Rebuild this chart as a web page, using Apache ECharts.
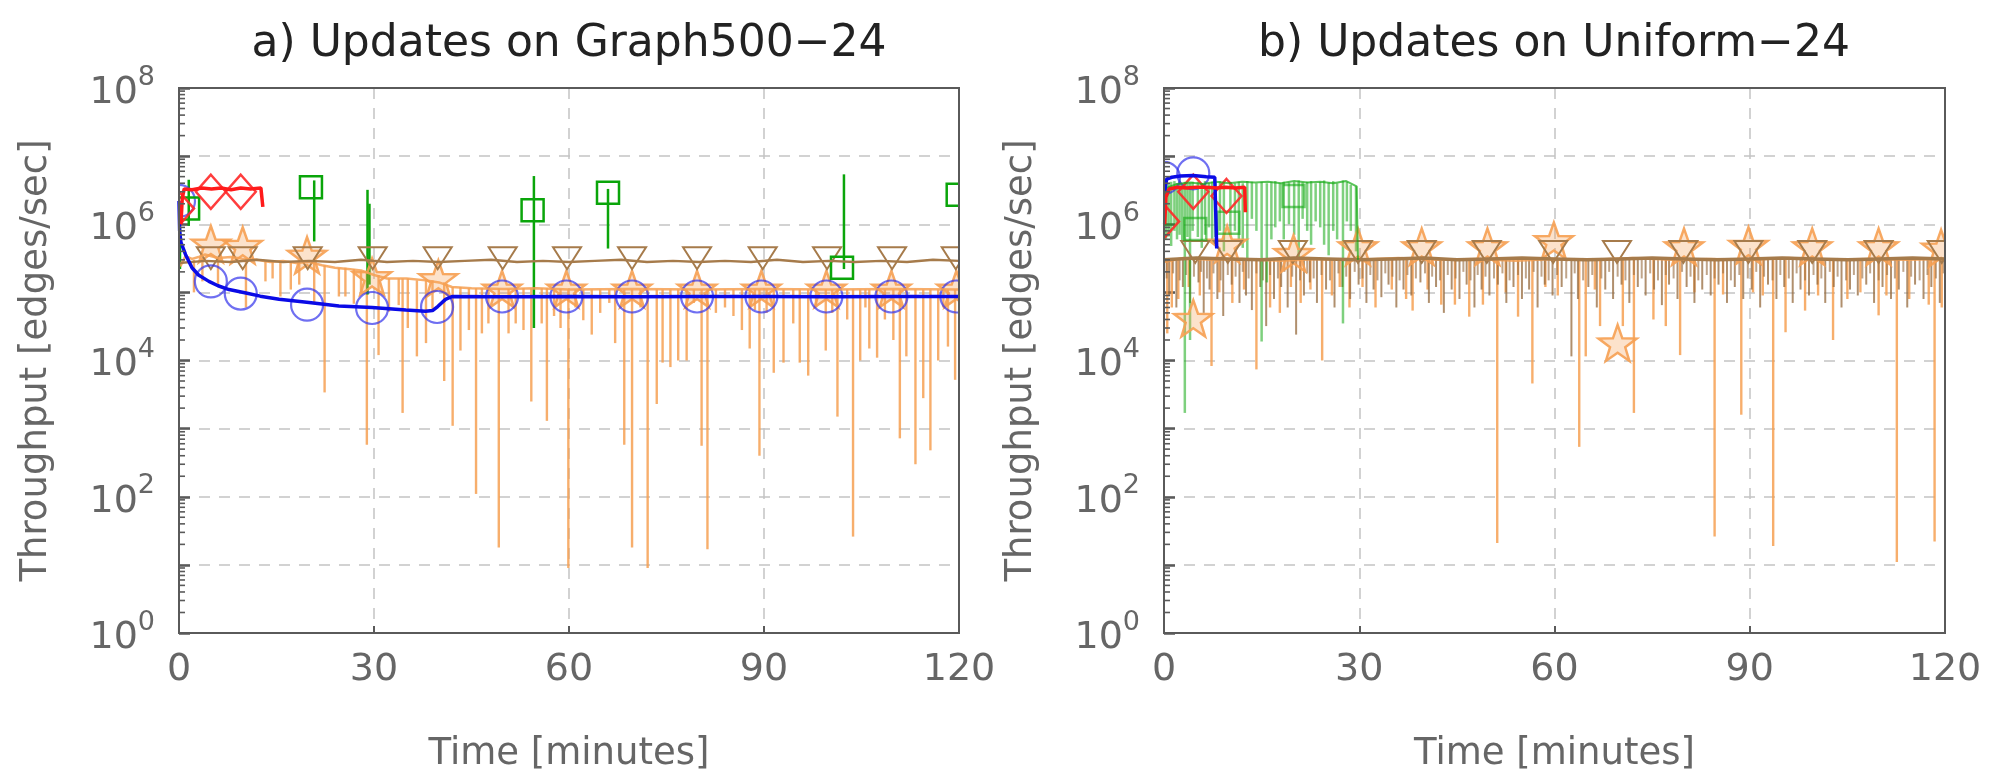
<!DOCTYPE html>
<html>
<head>
<meta charset="utf-8">
<script src="https://cdn.jsdelivr.net/npm/echarts@6/dist/echarts.min.js"></script>
<style>
  html, body { margin: 0; padding: 0; background: #fff; }
  #chart { width: 1995px; height: 778px; }
</style>
</head>
<body>
<div id="chart"></div>
<script>
// ---- data ----
const xTicks = [0, 30, 60, 90, 120]
const yTickExps = [0, 2, 4, 6, 8]
const titles = ['a) Updates on Graph500\u221224', 'b) Updates on Uniform\u221224']

// a) Graph500-24
const blueLineA = [[0, 2.2e6], [0.1, 8.0e5], [0.3, 5.4e5], [1, 3.6e5], [2, 2.3e5], [3, 1.8e5], [4.6, 1.45e5], [6, 1.25e5],
  [7.7, 1.1e5], [10.3, 9.8e4], [12.5, 8.8e4], [15.4, 7.9e4], [20, 7.1e4], [24.6, 6.3e4], [29.7, 6.0e4], [34.9, 5.5e4],
  [37.9, 5.3e4], [39, 5.4e4], [39.8, 6.2e4], [41, 7.9e4], [42, 8.7e4], [50, 8.6e4], [60, 8.7e4], [70, 8.6e4],
  [80, 8.7e4], [90, 8.7e4], [100, 8.6e4], [110, 8.7e4], [120, 8.7e4]]
const blueMarksA = [[0, 2.2e6], [4.9, 1.45e5], [9.5, 9.6e4], [19.7, 6.6e4], [29.7, 5.9e4], [39.7, 6.1e4], [49.7, 8.7e4],
  [59.6, 8.7e4], [69.7, 8.7e4], [79.7, 8.7e4], [89.6, 8.7e4], [99.6, 8.7e4], [109.6, 8.7e4], [119.6, 8.7e4]]
const redLineA = [[0.3, 1.0e6], [0.5, 2.4e6], [0.8, 3.3e6], [2, 3.2e6], [3.5, 3.4e6], [5, 3.3e6], [6.5, 3.4e6], [8, 3.2e6],
  [9.5, 3.4e6], [11, 3.3e6], [12.6, 3.4e6], [12.9, 1.8e6]]
const redMarksA = [[0, 1.7e6], [4.9, 3.0e6], [9.5, 3.0e6]]
const greenSpikesA = [[0.15, 9.0e5, 2.2e5], [1.5, 4.5e6, 9.5e5], [20.8, 4.4e6, 5.6e5], [29.0, 3.2e6, 9.3e4], [29.3, 2.0e6, 1.3e5],
  [54.6, 5.1e6, 3.0e4], [66.0, 3.3e6, 4.4e5], [102.3, 5.4e6, 2.2e5]]
const greenMarksA = [[1.4, 1.7e6], [20.3, 3.5e6], [54.4, 1.6e6], [66.0, 2.9e6], [102.0, 2.3e5], [119.8, 2.7e6]]
const brownLineA = [[0, 2.7e5], [4, 2.9e5], [8, 2.8e5], [12, 3.0e5], [16, 2.8e5], [20, 2.9e5], [24, 2.8e5], [28, 3.0e5],
  [32, 2.8e5], [36, 2.9e5], [40, 2.8e5], [44, 2.9e5], [48, 3.0e5], [52, 2.8e5], [56, 2.9e5], [60, 2.8e5], [64, 2.9e5],
  [68, 3.0e5], [72, 2.8e5], [76, 2.9e5], [80, 2.8e5], [84, 2.9e5], [88, 2.8e5], [92, 3.0e5], [96, 2.8e5], [100, 2.9e5],
  [104, 2.8e5], [108, 2.9e5], [112, 2.8e5], [116, 3.0e5], [120, 2.9e5]]
const brownMarksA = [[4.9, 3.4e5], [9.8, 3.4e5], [19.8, 3.4e5], [29.8, 3.4e5], [39.8, 3.4e5], [49.8, 3.4e5], [59.7, 3.4e5],
  [69.7, 3.4e5], [79.7, 3.4e5], [89.8, 3.4e5], [99.7, 3.4e5], [109.7, 3.4e5], [119.5, 3.4e5]]
const orangeLineA = [[0.2, 2.4e5], [1, 3.4e5], [2, 3.1e5], [3, 3.3e5], [4, 3.6e5], [6, 3.2e5], [8, 3.3e5], [10, 3.1e5],
  [12, 3.0e5], [14, 2.8e5], [16, 2.9e5], [18, 2.7e5], [20, 2.8e5], [22, 2.5e5], [24, 2.3e5], [26, 2.2e5], [28, 2.1e5],
  [30, 1.8e5], [32, 1.6e5], [35, 1.6e5], [38, 1.5e5], [40, 1.4e5], [42, 1.2e5], [45, 1.15e5], [50, 1.12e5], [55, 1.15e5],
  [60, 1.1e5], [70, 1.12e5], [80, 1.1e5], [90, 1.12e5], [100, 1.1e5], [110, 1.12e5], [120, 1.1e5]]
const orangeMarksA = [[4.9, 4.8e5], [9.8, 4.6e5], [19.7, 3.3e5], [29.7, 1.6e5], [39.9, 1.5e5], [49.7, 1.05e5], [59.6, 1.05e5],
  [69.7, 1.05e5], [79.7, 1.05e5], [89.6, 1.05e5], [99.6, 1.05e5], [109.6, 1.05e5], [119.6, 1.05e5]]
// [minute, top, bottom]
const orangeSpikesA = [[2.3, 3.0e5, 1.0e5], [3.6, 3.2e5, 1.45e5], [6.0, 3.2e5, 1.2e5], [10.3, 3.1e5, 6.0e4],
  [13.3, 2.9e5, 1.45e5], [14.4, 2.8e5, 1.6e5], [15.6, 2.9e5, 8.7e4], [17.2, 2.8e5, 1.1e5], [18.5, 2.7e5, 1.3e5],
  [20.8, 2.8e5, 6.8e4], [22.4, 2.5e5, 3.4e3], [24.6, 2.3e5, 8.7e4], [25.6, 2.3e5, 8.7e4], [26.9, 2.2e5, 6.8e4],
  [28.0, 2.1e5, 1.0e5], [28.9, 2.1e5, 5.8e2], [30.7, 1.8e5, 1.2e4], [32.3, 1.6e5, 5.2e4], [33.8, 1.6e5, 6.5e4],
  [34.4, 1.6e5, 1.7e3], [35.2, 1.6e5, 3.0e4], [36.6, 1.5e5, 1.15e4], [38.0, 1.5e5, 1.8e4], [39.0, 1.5e5, 5.5e4],
  [40.8, 1.4e5, 5.0e3], [42.1, 1.2e5, 1.1e3], [43.3, 1.2e5, 1.4e4], [44.6, 1.15e5, 2.8e4], [45.7, 1.15e5, 1.1e2],
  [46.6, 1.15e5, 2.5e4], [47.6, 1.15e5, 3.5e4], [49.2, 1.15e5, 18], [50.7, 1.12e5, 2.5e4], [51.8, 1.12e5, 3.5e4],
  [53.0, 1.15e5, 2.8e4], [54.2, 1.15e5, 2.5e3], [55.8, 1.15e5, 3.5e4], [56.6, 1.15e5, 1.3e3], [57.7, 1.12e5, 4.5e4],
  [58.7, 1.12e5, 3.0e4], [59.9, 1.1e5, 9], [61.0, 1.1e5, 6.0e4], [62.2, 1.1e5, 3.9e4], [63.5, 1.1e5, 2.4e4],
  [64.8, 1.1e5, 5.0e4], [66.2, 1.1e5, 7.0e4], [67.1, 1.1e5, 1.8e4], [68.5, 1.1e5, 5.8e2], [69.7, 1.1e5, 18],
  [71.0, 1.1e5, 6.0e4], [72.1, 1.1e5, 9], [73.5, 1.1e5, 2.3e3], [74.4, 1.1e5, 9.3e3], [75.6, 1.1e5, 8.0e3],
  [76.8, 1.1e5, 1.0e4], [78.1, 1.1e5, 1.0e4], [79.2, 1.1e5, 7.0e4], [80.4, 1.1e5, 5.6e2], [81.3, 1.1e5, 17],
  [82.6, 1.1e5, 5.0e4], [84.0, 1.1e5, 6.0e4], [85.3, 1.1e5, 4.5e4], [86.6, 1.1e5, 2.8e4], [87.8, 1.1e5, 1.5e4],
  [88.6, 1.1e5, 5.5e4], [89.3, 1.1e5, 4.0e2], [90.4, 1.1e5, 5.0e4], [91.5, 1.1e5, 6.6e3], [93.0, 1.1e5, 9.3e3],
  [94.5, 1.1e5, 3.5e4], [95.5, 1.1e5, 9.3e3], [96.8, 1.1e5, 6.0e3], [98.0, 1.1e5, 6.0e4], [99.5, 1.1e5, 1.4e4],
  [100.5, 1.1e5, 5.0e4], [101.3, 1.1e5, 1.5e3], [102.8, 1.1e5, 4.0e4], [103.7, 1.1e5, 26], [104.8, 1.1e5, 1.0e4],
  [105.6, 1.1e5, 6.0e4], [106.2, 1.1e5, 1.5e4], [107.4, 1.1e5, 1.1e4], [108.6, 1.1e5, 4.0e4], [109.9, 1.1e5, 2.0e4],
  [110.9, 1.1e5, 7.2e2], [111.9, 1.1e5, 1.15e4], [113.3, 1.1e5, 3.0e2], [114.5, 1.1e5, 2.8e3], [115.6, 1.1e5, 4.8e2],
  [116.8, 1.1e5, 1.0e4], [117.6, 1.1e5, 6.0e4], [118.3, 1.1e5, 1.6e4], [119.4, 1.1e5, 5.2e3]]

// b) Uniform-24
const blueLineB = [[0.1, 3.0e6], [0.4, 4.6e6], [1.2, 4.9e6], [2.5, 5.1e6], [4.5, 5.2e6], [6.5, 5.0e6], [7.8, 4.9e6], [8.1, 4.4e5]]
const blueMarksB = [[0, 4.8e6], [4.5, 5.6e6]]
const redLineB = [[0.1, 1.0e6], [0.3, 2.5e6], [0.8, 3.3e6], [2, 3.5e6], [3.5, 3.4e6], [5, 3.5e6], [6.5, 3.5e6], [8, 3.4e6],
  [9.5, 3.5e6], [11, 3.4e6], [12.4, 3.5e6], [12.5, 1.5e6]]
const redMarksB = [[0, 1.1e6], [4.5, 3.0e6], [9.6, 2.6e6]]
const greenLineB = [[0.1, 1.8e6], [0.4, 3.4e6], [2, 3.9e6], [4, 4.1e6], [6, 3.9e6], [8, 4.2e6], [10, 4.0e6], [12, 4.2e6],
  [14, 4.1e6], [16, 4.2e6], [18, 4.0e6], [20, 4.3e6], [22, 4.1e6], [24, 4.2e6], [26, 4.0e6], [28, 4.3e6], [29.6, 3.6e6], [29.8, 3.0e5]]
const greenSpikesB = [[0.3, 3.5e6, 6.0e5], [0.7, 4.0e6, 6.6e5], [1.1, 4.2e6, 4.8e5], [1.6, 4.3e6, 8.0e5], [2.0, 4.0e6, 6.0e5],
  [2.4, 4.3e6, 7.0e5], [2.8, 4.0e6, 5.5e5], [3.2, 4.2e6, 1.7e3], [3.6, 4.0e6, 6.5e5], [4.0, 4.1e6, 2.0e4], [4.4, 4.2e6, 8.0e5],
  [5.2, 4.2e6, 6.5e5], [5.8, 4.0e6, 4.5e5], [6.3, 4.3e6, 7.0e5], [6.9, 4.0e6, 9.0e5], [7.4, 4.2e6, 5.5e5], [7.9, 4.0e6, 6.5e5],
  [8.6, 4.3e6, 8.0e5], [9.2, 4.1e6, 4.0e5], [10.2, 4.2e6, 7.0e5], [10.9, 4.0e6, 8.0e5], [11.5, 4.2e6, 6.0e5], [12.1, 4.0e6, 4.5e5],
  [12.8, 4.3e6, 3.0e5], [13.5, 4.2e6, 1.2e6], [14.2, 4.0e6, 8.0e5], [15.0, 4.2e6, 1.9e4], [15.8, 4.0e6, 1.4e5], [16.5, 4.2e6, 6.0e5],
  [17.1, 4.3e6, 9.0e5], [17.8, 4.0e6, 1.1e6], [18.4, 4.2e6, 6.0e5], [19.2, 4.1e6, 1.0e6], [20.0, 4.2e6, 7.0e5], [20.7, 4.4e6, 3.0e5],
  [21.3, 4.1e6, 1.2e6], [22.0, 4.2e6, 8.0e5], [22.6, 4.3e6, 5.0e5], [23.3, 4.0e6, 1.1e6], [24.0, 4.2e6, 9.0e5], [24.6, 4.4e6, 5.0e5],
  [25.3, 4.1e6, 3.5e5], [26.0, 4.3e6, 8.0e5], [26.6, 4.0e6, 6.0e5], [27.5, 4.4e6, 3.5e4], [28.1, 4.2e6, 1.1e6], [28.7, 3.8e6, 8.0e5],
  [29.5, 3.6e6, 4.0e5]]
const greenMarksB = [[4.8, 8.5e5], [9.9, 1.05e6], [19.9, 2.6e6]]
const brownLineB = [[0, 3.0e5], [5, 3.2e5], [10, 3.1e5], [15, 3.0e5], [20, 3.2e5], [25, 3.1e5], [30, 3.0e5], [35, 3.1e5],
  [40, 3.2e5], [45, 3.0e5], [50, 3.1e5], [55, 3.2e5], [60, 3.1e5], [65, 3.0e5], [70, 3.1e5], [75, 3.2e5], [80, 3.1e5],
  [85, 3.0e5], [90, 3.1e5], [95, 3.2e5], [100, 3.1e5], [105, 3.0e5], [110, 3.1e5], [115, 3.2e5], [120, 3.1e5]]
const brownSpikesB = [[0.8, 3.1e5, 9e4], [1.9, 3.1e5, 6e4], [2.9, 3.1e5, 1.2e5], [4.0, 3.1e5, 7e4], [5.3, 3.1e5, 1.4e5],
  [6.1, 3.1e5, 5e4], [7.0, 3.1e5, 1.1e5], [8.2, 3.1e5, 8e4], [9.1, 3.1e5, 4.5e4], [10.4, 3.1e5, 1.3e5], [11.6, 3.1e5, 7e4],
  [12.6, 3.1e5, 9e4], [13.5, 3.1e5, 5.5e4], [14.8, 3.1e5, 1.2e5], [15.7, 3.1e5, 3.2e4], [16.9, 3.1e5, 8e4], [18.0, 3.1e5, 1.2e5],
  [19.0, 3.1e5, 6e4], [20.3, 3.1e5, 2.4e4], [21.5, 3.1e5, 9e4], [22.4, 3.1e5, 1.4e5], [23.5, 3.1e5, 7e4], [24.9, 3.1e5, 1.1e5],
  [26.2, 3.1e5, 6e4], [27.4, 3.1e5, 1.2e5], [28.6, 3.1e5, 8e4], [29.9, 3.1e5, 1.3e5], [31.1, 3.1e5, 7e4], [32.2, 3.1e5, 1.1e5],
  [33.4, 3.1e5, 8.5e4], [34.5, 3.1e5, 1.3e5], [35.7, 3.1e5, 6e4], [36.8, 3.1e5, 1.1e5], [38.0, 3.1e5, 9e4], [39.4, 3.1e5, 1.4e5],
  [40.7, 3.1e5, 7e4], [41.8, 3.1e5, 1.2e5], [43.0, 3.1e5, 5e4], [44.2, 3.1e5, 1.1e5], [45.4, 3.1e5, 8e4], [46.5, 3.1e5, 1.3e5],
  [47.7, 3.1e5, 6e4], [48.8, 3.1e5, 1.1e5], [50.0, 3.1e5, 9e4], [51.3, 3.1e5, 1.3e5], [52.6, 3.1e5, 7e4], [53.7, 3.1e5, 1.2e5],
  [55.0, 3.1e5, 8e4], [56.1, 3.1e5, 1.1e5], [57.4, 3.1e5, 6e4], [58.5, 3.1e5, 1.3e5], [59.7, 3.1e5, 9e4], [61.1, 3.1e5, 1.2e5],
  [62.6, 3.1e5, 1.15e4], [63.6, 3.1e5, 8e4], [65.2, 3.1e5, 1.2e5], [66.5, 3.1e5, 6e4], [67.8, 3.1e5, 1.1e5], [69.0, 3.1e5, 8e4],
  [70.3, 3.1e5, 1.3e5], [71.5, 3.1e5, 7e4], [72.8, 3.1e5, 1.2e5], [74.0, 3.1e5, 9e4], [75.3, 3.1e5, 1.1e5], [76.5, 3.1e5, 6.5e4],
  [77.6, 3.1e5, 1.3e5], [78.9, 3.1e5, 8e4], [80.3, 3.1e5, 1.2e5], [81.5, 3.1e5, 7e4], [82.7, 3.1e5, 1.1e5], [84.0, 3.1e5, 9e4],
  [85.2, 3.1e5, 1.3e5], [86.5, 3.1e5, 7e4], [87.7, 3.1e5, 1.2e5], [89.0, 3.1e5, 8e4], [90.3, 3.1e5, 1.1e5], [91.6, 3.1e5, 6e4],
  [92.8, 3.1e5, 1.3e5], [94.1, 3.1e5, 8e4], [95.3, 3.1e5, 1.2e5], [96.6, 3.1e5, 7e4], [97.8, 3.1e5, 1.1e5], [99.1, 3.1e5, 9e4],
  [100.4, 3.1e5, 1.3e5], [101.6, 3.1e5, 7e4], [102.9, 3.1e5, 1.2e5], [104.1, 3.1e5, 6e4], [105.4, 3.1e5, 1.1e5], [106.6, 3.1e5, 9e4],
  [107.9, 3.1e5, 1.3e5], [109.1, 3.1e5, 7e4], [110.4, 3.1e5, 1.2e5], [111.7, 3.1e5, 8e4], [112.9, 3.1e5, 1.1e5], [114.2, 3.1e5, 6e4],
  [115.4, 3.1e5, 1.3e5], [116.7, 3.1e5, 8e4], [117.9, 3.1e5, 1.2e5], [119.2, 3.1e5, 7e4]]
// shorter brown strokes that thicken the band just under 3e5
const brownFuzzB = [[0.4, 3.2e5, 1.6e5], [1.4, 3.2e5, 1.9e5], [2.4, 3.2e5, 1.5e5], [3.4, 3.2e5, 1.8e5], [4.6, 3.2e5, 1.7e5],
  [5.7, 3.2e5, 2.0e5], [6.6, 3.2e5, 1.6e5], [7.6, 3.2e5, 1.9e5], [8.7, 3.2e5, 1.5e5], [9.8, 3.2e5, 1.8e5], [11.0, 3.2e5, 1.7e5],
  [12.1, 3.2e5, 2.0e5], [13.0, 3.2e5, 1.6e5], [14.2, 3.2e5, 1.9e5], [15.2, 3.2e5, 1.5e5], [16.3, 3.2e5, 1.8e5], [17.5, 3.2e5, 1.6e5],
  [18.5, 3.2e5, 2.0e5], [19.7, 3.2e5, 1.7e5], [20.9, 3.2e5, 1.5e5], [22.0, 3.2e5, 1.9e5], [23.0, 3.2e5, 1.6e5], [24.2, 3.2e5, 1.8e5],
  [25.5, 3.2e5, 1.5e5], [26.8, 3.2e5, 1.9e5], [28.0, 3.2e5, 1.7e5], [29.3, 3.2e5, 2.0e5], [30.5, 3.2e5, 1.6e5], [31.7, 3.2e5, 1.8e5],
  [32.8, 3.2e5, 1.5e5], [34.0, 3.2e5, 1.9e5], [35.1, 3.2e5, 1.7e5], [36.2, 3.2e5, 1.5e5], [37.4, 3.2e5, 1.8e5], [38.7, 3.2e5, 1.6e5],
  [40.1, 3.2e5, 1.9e5], [41.2, 3.2e5, 1.7e5], [42.4, 3.2e5, 1.5e5], [43.6, 3.2e5, 1.8e5], [44.8, 3.2e5, 1.6e5], [46.0, 3.2e5, 2.0e5],
  [47.1, 3.2e5, 1.5e5], [48.2, 3.2e5, 1.8e5], [49.4, 3.2e5, 1.7e5], [50.7, 3.2e5, 1.6e5], [52.0, 3.2e5, 1.9e5], [53.1, 3.2e5, 1.5e5],
  [54.4, 3.2e5, 1.8e5], [55.6, 3.2e5, 1.6e5], [56.8, 3.2e5, 2.0e5], [58.0, 3.2e5, 1.7e5], [59.1, 3.2e5, 1.5e5], [60.4, 3.2e5, 1.8e5],
  [61.8, 3.2e5, 1.6e5], [63.1, 3.2e5, 1.9e5], [64.4, 3.2e5, 1.5e5], [65.8, 3.2e5, 1.8e5], [67.2, 3.2e5, 1.6e5], [68.4, 3.2e5, 2.0e5],
  [69.7, 3.2e5, 1.7e5], [70.9, 3.2e5, 1.5e5], [72.2, 3.2e5, 1.8e5], [73.4, 3.2e5, 1.6e5], [74.7, 3.2e5, 1.9e5], [75.9, 3.2e5, 1.5e5],
  [77.1, 3.2e5, 1.8e5], [78.3, 3.2e5, 1.6e5], [79.6, 3.2e5, 2.0e5], [80.9, 3.2e5, 1.7e5], [82.1, 3.2e5, 1.5e5], [83.4, 3.2e5, 1.8e5],
  [84.6, 3.2e5, 1.6e5], [85.9, 3.2e5, 1.9e5], [87.1, 3.2e5, 1.5e5], [88.4, 3.2e5, 1.8e5], [89.7, 3.2e5, 1.6e5], [91.0, 3.2e5, 2.0e5],
  [92.2, 3.2e5, 1.7e5], [93.5, 3.2e5, 1.5e5], [94.7, 3.2e5, 1.8e5], [96.0, 3.2e5, 1.6e5], [97.2, 3.2e5, 1.9e5], [98.5, 3.2e5, 1.5e5],
  [99.8, 3.2e5, 1.8e5], [101.0, 3.2e5, 1.6e5], [102.3, 3.2e5, 2.0e5], [103.5, 3.2e5, 1.7e5], [104.8, 3.2e5, 1.5e5], [106.0, 3.2e5, 1.8e5],
  [107.3, 3.2e5, 1.6e5], [108.5, 3.2e5, 1.9e5], [109.8, 3.2e5, 1.5e5], [111.1, 3.2e5, 1.8e5], [112.3, 3.2e5, 1.6e5], [113.6, 3.2e5, 2.0e5],
  [114.8, 3.2e5, 1.7e5], [116.1, 3.2e5, 1.5e5], [117.3, 3.2e5, 1.8e5], [118.6, 3.2e5, 1.6e5], [119.8, 3.2e5, 1.9e5]]
const brownMarksB = [[4.8, 4.2e5], [9.8, 4.2e5], [19.8, 4.2e5], [29.8, 4.2e5], [39.6, 4.2e5], [49.6, 4.2e5], [59.8, 4.2e5],
  [69.6, 4.2e5], [79.8, 4.2e5], [89.8, 4.2e5], [99.6, 4.2e5], [109.8, 4.2e5], [119.5, 4.2e5]]
const orangeLineB = [[0, 2.8e5], [3, 3.2e5], [7, 3.0e5], [12, 3.1e5], [18, 2.9e5], [24, 3.1e5], [30, 3.0e5], [36, 3.2e5],
  [42, 3.0e5], [48, 3.1e5], [54, 2.9e5], [60, 3.1e5], [66, 3.0e5], [72, 3.2e5], [78, 3.0e5], [84, 3.1e5], [90, 3.0e5],
  [96, 3.2e5], [102, 3.0e5], [108, 3.1e5], [114, 3.0e5], [120, 3.1e5]]
const orangeSpikesB = [[0.5, 3.0e5, 2.5e4], [1.2, 3.0e5, 6.0e4], [2.2, 3.0e5, 8.0e4], [3.8, 3.0e5, 1.2e5], [5.5, 3.0e5, 9.0e4],
  [7.3, 3.0e5, 8.3e3], [8.5, 3.0e5, 1.0e5], [10.5, 3.0e5, 7.0e4], [12.3, 3.0e5, 1.1e5], [14.2, 3.0e5, 7.4e3], [16.3, 3.0e5, 6.0e4],
  [17.8, 3.0e5, 5.0e4], [19.5, 3.0e5, 1.2e5], [21.0, 3.0e5, 7.0e4], [22.5, 3.0e5, 1.1e5], [24.3, 3.0e5, 1.0e4], [25.8, 3.0e5, 9.0e4],
  [27.0, 3.0e5, 1.2e5], [28.5, 3.0e5, 6.0e4], [30.5, 3.0e5, 1.2e5], [32.5, 3.0e5, 6.0e4], [35.0, 3.0e5, 1.1e5], [37.2, 3.0e5, 8.0e4],
  [38.2, 3.0e5, 5.4e4], [40.5, 3.0e5, 1.1e5], [42.6, 3.0e5, 6.6e4], [44.7, 3.0e5, 6.6e4], [46.9, 3.0e5, 4.4e4], [49.0, 3.0e5, 6.6e4],
  [51.2, 3.0e5, 21], [52.5, 3.0e5, 1.0e5], [54.4, 3.0e5, 4.4e4], [56.6, 3.0e5, 4.6e3], [58.6, 3.0e5, 1.2e5], [60.5, 3.0e5, 9.0e4],
  [63.8, 3.0e5, 5.4e2], [64.8, 3.0e5, 1.15e4], [66.2, 3.0e5, 1.1e5], [67.0, 3.0e5, 3.2e4], [70.5, 3.0e5, 3.2e4], [72.2, 3.0e5, 1.7e3],
  [75.2, 3.0e5, 4.0e4], [77.1, 3.0e5, 3.2e4], [79.3, 3.0e5, 1.2e4], [81.5, 3.0e5, 1.0e5], [84.6, 3.0e5, 26], [85.9, 3.0e5, 9.3e4],
  [88.7, 3.0e5, 1.6e3], [90.5, 3.0e5, 1.0e5], [92.0, 3.0e5, 9.0e4], [93.6, 3.0e5, 19], [95.5, 3.0e5, 2.6e4], [98.5, 3.0e5, 5.4e4],
  [100.5, 3.0e5, 9.0e4], [102.8, 3.0e5, 2.0e4], [105.0, 3.0e5, 8.0e4], [107.0, 3.0e5, 1.0e5], [109.8, 3.0e5, 4.6e4], [111.0, 3.0e5, 9.0e4],
  [112.6, 3.0e5, 11], [114.5, 3.0e5, 8.0e4], [117.5, 3.0e5, 6.6e4], [118.4, 3.0e5, 22], [119.5, 3.0e5, 6.0e4]]
const orangeMarksB = [[4.5, 3.9e4], [9.7, 4.8e5], [19.9, 3.5e5], [29.8, 4.4e5], [39.6, 4.4e5], [49.7, 4.4e5], [59.9, 5.4e5],
  [69.7, 1.7e4], [79.9, 4.4e5], [89.8, 4.6e5], [99.6, 4.4e5], [109.8, 4.4e5], [119.4, 4.2e5]]

// ---- chart ----
const FONT = 'DejaVu Sans'
const GRAY = '#5a5a5a'
const LABEL = '#666'
const ORANGE = 'rgba(246,160,82,0.85)'
const BROWN = '#a67b4b'
const GREEN = '#0aa50a'
const BLUE = '#0a0ae6'
const RED = '#ff1a1a'

// minor log ticks 2..9 in every decade, placed on the left axis
const minorTicks = []
for (let d = 0; d < 8; d++) for (let m = 2; m < 10; m++) minorTicks.push([xTicks[0], m * Math.pow(10, d)])

function lineSeries(data, gi, color, width) {
  return {
    type: 'line', xAxisIndex: gi, yAxisIndex: gi, data: data, symbol: 'none', showSymbol: false,
    lineStyle: { color: color, width: width }, itemStyle: { color: color }, silent: true, clip: true,
  }
}

function spikeSeries(data, gi, color, width) {
  return {
    type: 'custom', xAxisIndex: gi, yAxisIndex: gi, data: data, clip: true, silent: true,
    encode: { x: 0, y: [1, 2] },
    renderItem: function (params, api) {
      const a = api.coord([api.value(0), api.value(1)])
      const b = api.coord([api.value(0), api.value(2)])
      return { type: 'line', shape: { x1: a[0], y1: a[1], x2: b[0], y2: b[1] }, style: { stroke: color, lineWidth: width } }
    },
  }
}

function tickSeries(gi) {
  return {
    type: 'custom', xAxisIndex: gi, yAxisIndex: gi, data: minorTicks, clip: false, silent: true, z: 5,
    encode: { x: 0, y: 1 },
    renderItem: function (params, api) {
      const p = api.coord([api.value(0), api.value(1)])
      return { type: 'line', shape: { x1: p[0], y1: p[1], x2: p[0] + 6, y2: p[1] }, style: { stroke: GRAY, lineWidth: 1.6 } }
    },
  }
}

function markerSeries(data, gi, kind, stroke, fill, lw) {
  return {
    type: 'custom', xAxisIndex: gi, yAxisIndex: gi, data: data, clip: true, silent: true, z: 3,
    encode: { x: 0, y: 1 },
    renderItem: function (params, api) {
      const p = api.coord([api.value(0), api.value(1)])
      const x = p[0], y = p[1]
      const style = { stroke: stroke, fill: fill, lineWidth: lw }
      if (kind === 'circle') return { type: 'circle', shape: { cx: x, cy: y, r: 16 }, style: style }
      if (kind === 'square') return { type: 'rect', shape: { x: x - 11, y: y - 11, width: 22, height: 22 }, style: style }
      if (kind === 'diamond') return { type: 'polygon', shape: { points: [[x, y - 17], [x + 15, y], [x, y + 17], [x - 15, y]] }, style: style }
      if (kind === 'triangle') return { type: 'polygon', shape: { points: [[x - 14, y - 9], [x + 14, y - 9], [x, y + 13]] }, style: style }
      const pts = []
      for (let k = 0; k < 10; k++) {
        const ang = -Math.PI / 2 + k * Math.PI / 5
        const rad = k % 2 === 0 ? 20 : 8
        pts.push([x + rad * Math.cos(ang), y + rad * Math.sin(ang)])
      }
      return { type: 'polygon', shape: { points: pts }, style: style }
    },
  }
}

function yLabel(v) {
  const e = Math.round(Math.log10(v))
  return yTickExps.indexOf(e) >= 0 ? '{b|10}{s|' + e + '}' : ''
}

function xAxis(gi) {
  return {
    type: 'value', gridIndex: gi, min: xTicks[0], max: xTicks[xTicks.length - 1], interval: xTicks[1] - xTicks[0],
    axisLine: { lineStyle: { color: GRAY, width: 2 } },
    axisTick: { inside: true, length: 7, lineStyle: { color: GRAY, width: 2 } },
    axisLabel: { fontSize: 38, color: LABEL, fontFamily: FONT, margin: 18, showMinLabel: true, showMaxLabel: true },
    splitLine: { show: true, lineStyle: { color: '#c4c4c4', width: 1.5, type: [11, 9] } },
    name: 'Time [minutes]', nameLocation: 'middle', nameGap: 103,
    nameTextStyle: { fontSize: 37, color: LABEL, fontFamily: FONT },
  }
}

function yAxis(gi) {
  return {
    type: 'log', logBase: 10, gridIndex: gi, min: 1, max: 1e8, splitNumber: 8, position: 'left',
    axisLine: { show: true, lineStyle: { color: GRAY, width: 2 } },
    axisTick: { inside: true, length: 11, lineStyle: { color: GRAY, width: 2.5 } },
    axisLabel: {
      margin: 24, formatter: yLabel, interval: 0,
      rich: {
        b: { fontSize: 38, color: LABEL, fontFamily: FONT, verticalAlign: 'bottom', padding: [10, 0, 0, 0] },
        s: { fontSize: 27, color: LABEL, fontFamily: FONT, verticalAlign: 'top' },
      },
    },
    splitLine: { show: true, lineStyle: { color: '#c4c4c4', width: 1.5, type: [11, 9] } },
    name: 'Throughput [edges/sec]', nameLocation: 'middle', nameGap: 124,
    nameTextStyle: { fontSize: 37, color: LABEL, fontFamily: FONT },
  }
}

const option = {
  backgroundColor: '#fff',
  animation: false,
  textStyle: { fontFamily: FONT },
  grid: [
    { left: 179, top: 88, width: 780, height: 559, show: true, borderColor: GRAY, borderWidth: 2, z: 4 },
    { left: 1164, top: 88, width: 781, height: 559, show: true, borderColor: GRAY, borderWidth: 2, z: 4 },
  ],
  graphic: [
    { type: 'text', x: 569, y: 45, style: { text: titles[0], fontSize: 44, fontFamily: FONT, fill: '#222', align: 'center', verticalAlign: 'middle' } },
    { type: 'text', x: 1554, y: 45, style: { text: titles[1], fontSize: 44, fontFamily: FONT, fill: '#222', align: 'center', verticalAlign: 'middle' } },
  ],
  xAxis: [xAxis(0), xAxis(1)],
  yAxis: [yAxis(0), yAxis(1)],
  series: [
    spikeSeries(orangeSpikesA, 0, ORANGE, 2.4),
    lineSeries(orangeLineA, 0, ORANGE, 2.5),
    lineSeries(brownLineA, 0, BROWN, 2.5),
    spikeSeries(greenSpikesA, 0, GREEN, 2.5),
    lineSeries(blueLineA, 0, BLUE, 3.5),
    lineSeries(redLineA, 0, RED, 3.5),
    markerSeries(orangeMarksA, 0, 'star', 'rgba(246,160,82,0.9)', 'rgba(246,160,82,0.3)', 2.5),
    markerSeries(brownMarksA, 0, 'triangle', BROWN, 'none', 2),
    markerSeries(blueMarksA, 0, 'circle', 'rgba(50,50,235,0.7)', 'none', 2.2),
    markerSeries(greenMarksA, 0, 'square', GREEN, 'none', 2.5),
    markerSeries(redMarksA, 0, 'diamond', 'rgba(255,40,40,0.9)', 'none', 2.5),
    tickSeries(0),

    spikeSeries(orangeSpikesB, 1, ORANGE, 2.4),
    lineSeries(orangeLineB, 1, ORANGE, 2.5),
    spikeSeries(brownFuzzB, 1, 'rgba(150,105,60,0.6)', 2),
    spikeSeries(brownSpikesB, 1, 'rgba(150,105,60,0.75)', 2),
    lineSeries(brownLineB, 1, BROWN, 3.5),
    spikeSeries(greenSpikesB, 1, 'rgba(20,170,20,0.55)', 2.5),
    lineSeries(greenLineB, 1, 'rgba(20,170,20,0.7)', 2),
    lineSeries(blueLineB, 1, BLUE, 3.5),
    lineSeries(redLineB, 1, RED, 3.5),
    markerSeries(orangeMarksB, 1, 'star', 'rgba(246,160,82,0.9)', 'rgba(246,160,82,0.3)', 2.5),
    markerSeries(brownMarksB, 1, 'triangle', BROWN, 'none', 2),
    markerSeries(blueMarksB, 1, 'circle', 'rgba(50,50,235,0.7)', 'none', 2.2),
    markerSeries(greenMarksB, 1, 'square', 'rgba(20,170,20,0.6)', 'none', 2.5),
    markerSeries(redMarksB, 1, 'diamond', 'rgba(255,40,40,0.9)', 'none', 2.5),
    tickSeries(1),
  ],
}

const myChart = echarts.init(document.getElementById('chart'))
myChart.setOption(option)
</script>
</body>
</html>
